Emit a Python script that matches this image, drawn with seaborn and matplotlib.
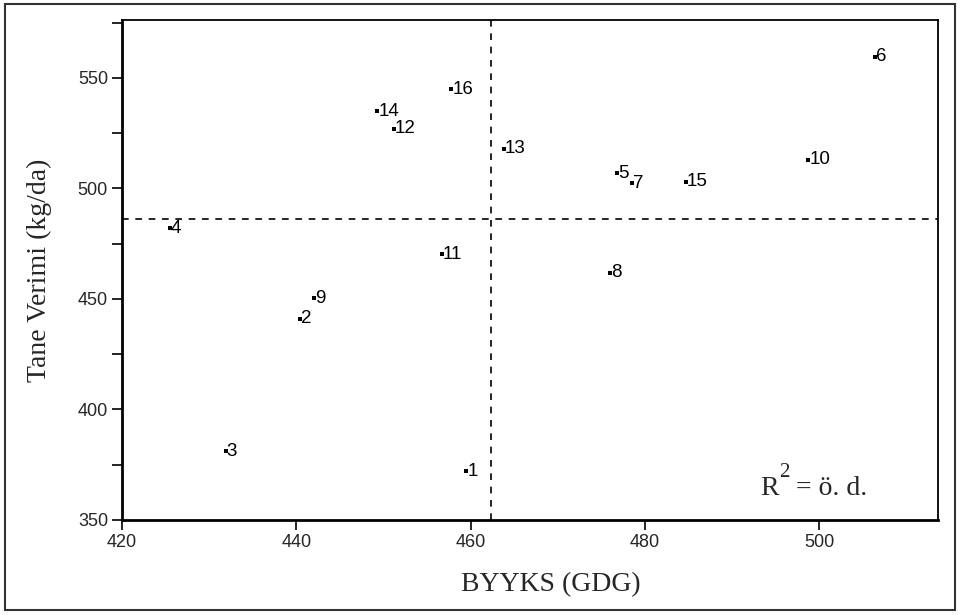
import pandas as pd
import matplotlib.pyplot as plt
import seaborn as sns
from matplotlib.ticker import MultipleLocator
from matplotlib.patches import Rectangle

# ========= DADOS ==========
genotip = ["1", "2", "3", "4", "5", "6", "7", "8", "9", "10", "11", "12", "13", "14", "15", "16"]
byyks = [459.5, 440.4, 431.9, 425.5, 476.8, 506.4, 478.5, 476.0, 442.0, 498.7, 456.7, 451.2, 463.8, 449.3, 484.7, 457.8]
verim = [372.0, 441.1, 381.1, 482.0, 506.8, 559.5, 502.3, 461.8, 450.2, 513.0, 470.2, 527.0, 517.9, 535.0, 503.0, 544.9]
ort_byyks = 462.3
ort_verim = 486.1

df = pd.DataFrame({"genotip": genotip, "byyks": byyks, "verim": verim})

# ========= GRAFIK ==========
sns.set_style("white")
fig = plt.figure(figsize=(9.6, 6.15), dpi=100)
ax = fig.add_axes([0.127, 0.1545, 0.850, 0.813])

sns.scatterplot(data=df, x="byyks", y="verim", marker="s", s=6, color="black",
                edgecolor="black", linewidth=0, ax=ax, legend=False)

for g, xv, yv in zip(df["genotip"], df["byyks"], df["verim"]):
    ax.annotate(g, (xv, yv), xytext=(0.8, 0), textcoords="offset points",
                ha="left", va="center", fontsize=13.5, family="Liberation Sans", color="black")

ax.axvline(ort_byyks, color="black", linestyle=(0, (4, 4)), linewidth=1.2)
ax.axhline(ort_verim, color="black", linestyle=(0, (4, 4)), linewidth=1.2)

ax.set_xlim(420, 513.6)
ax.set_ylim(350, 576.2)
ax.xaxis.set_major_locator(MultipleLocator(20))
ax.yaxis.set_major_locator(MultipleLocator(50))
ax.yaxis.set_minor_locator(MultipleLocator(25))

ax.tick_params(axis="both", which="both", direction="out", length=7, width=1.2,
               color="black", labelsize=13, bottom=True, left=True, pad=3)
ax.tick_params(axis="both", which="minor", labelleft=False)
for lab in ax.get_xticklabels() + ax.get_yticklabels():
    lab.set_family("Liberation Sans")

for sp in ax.spines.values():
    sp.set_color("black")
    sp.set_linewidth(1.3)
ax.spines["left"].set_linewidth(2)
ax.spines["bottom"].set_linewidth(2)

ax.set_xlabel("BYYKS (GDG)", family="Liberation Serif", fontsize=20)
ax.set_ylabel("Tane Verimi (kg/da)", family="Liberation Serif", fontsize=20)
ax.xaxis.set_label_coords(0.526, -0.104)
ax.yaxis.set_label_coords(-0.086, 0.5)

# R^2 notu
ax.text(0.782, 0.05, "R", transform=ax.transAxes, family="Liberation Serif",
        fontsize=20, ha="left", va="baseline")
ax.text(0.805, 0.085, "2", transform=ax.transAxes, family="Liberation Serif",
        fontsize=15, ha="left", va="baseline")
ax.text(0.826, 0.05, "= ö. d.", transform=ax.transAxes, family="Liberation Serif",
        fontsize=20, ha="left", va="baseline")

# moldura externa
fig.patches.append(Rectangle((0.005, 0.008), 0.99, 0.985, transform=fig.transFigure,
                             fill=False, edgecolor="#333333", linewidth=1.5))

plt.savefig("out.png", dpi=100)
